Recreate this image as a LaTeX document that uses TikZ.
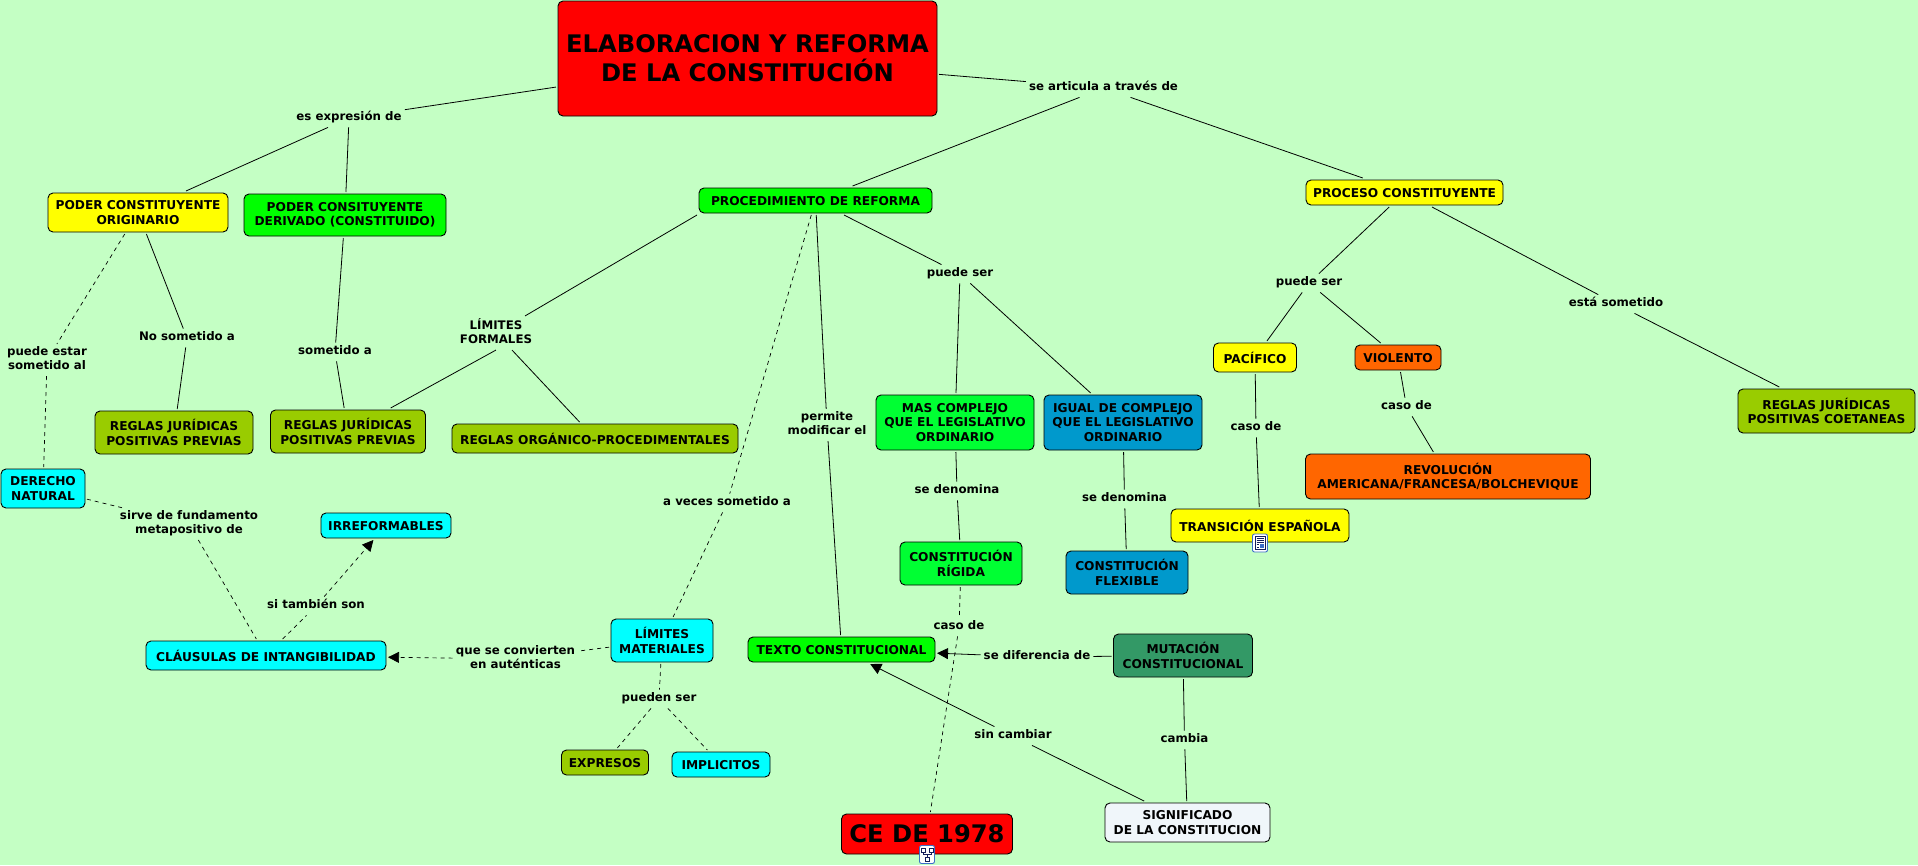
\documentclass[tikz,border=0pt]{standalone}
\usepackage{fontspec}
\setmainfont{DejaVu Sans}
\usetikzlibrary{arrows.meta}

\definecolor{mapbg}{RGB}{196,255,196}
\definecolor{mapred}{RGB}{255,0,0}
\definecolor{mapyellow}{RGB}{255,255,0}
\definecolor{mapgreen}{RGB}{0,255,0}
\definecolor{mapspring}{RGB}{0,255,51}
\definecolor{mapblue}{RGB}{0,153,204}
\definecolor{maporange}{RGB}{255,102,0}
\definecolor{mapolive}{RGB}{153,204,0}
\definecolor{mapcyan}{RGB}{0,255,255}
\definecolor{mapsea}{RGB}{51,153,102}
\definecolor{mapwhite}{RGB}{240,246,250}
\definecolor{iconblue}{RGB}{60,110,200}
\definecolor{iconink}{RGB}{20,30,90}

\tikzset{
    concept/.style={draw=black, line width=0.9pt, rounded corners=5pt, align=center, inner sep=0pt, outer sep=2pt, font=\fontsize{12.2}{14.4}\selectfont\bfseries, execute at begin node={\rule{0pt}{11pt}}},
    bigconcept/.style={concept, font=\fontsize{24.2}{28.7}\selectfont\bfseries},
    linkword/.style={align=center, inner xsep=3pt, inner ysep=2pt, yshift=-1pt, font=\fontsize{11.8}{14.4}\selectfont\bfseries, execute at begin node=\strut, execute at end node=\strut},
    conn/.style={line width=0.8pt},
    connd/.style={line width=0.7pt, dash pattern=on 4pt off 4pt},
    tip/.style={-{Triangle[length=11pt,width=11pt]}},
    iconbox/.style={draw=iconblue, fill=white, line width=0.9pt, rounded corners=2pt, minimum width=15pt, minimum height=18pt, inner sep=0pt},
    iconline/.style={draw=iconink, line width=0.8pt}
}

\begin{document}
\begin{tikzpicture}[x=1pt, y=-1pt]
    \useasboundingbox (0,0) rectangle (1918,865);
    \fill[mapbg] (0,0) rectangle (1918,865);

    % Main concept and the two big branches
    \node[bigconcept, fill=mapred, minimum width=379pt, minimum height=115pt] (title) at (747.5,58.5) {ELABORACION Y REFORMA\\DE LA CONSTITUCIÓN};
    \node[concept, fill=mapyellow, minimum width=180pt, minimum height=39pt] (poderorig) at (138,212.5) {PODER CONSTITUYENTE\\ORIGINARIO};
    \node[concept, fill=mapgreen, minimum width=202pt, minimum height=42pt] (poderderiv) at (345,215) {PODER CONSITUYENTE\\DERIVADO (CONSTITUIDO)};
    \node[concept, fill=mapgreen, minimum width=233pt, minimum height=25pt] (procreforma) at (815.5,200.5) {PROCEDIMIENTO DE REFORMA};
    \node[concept, fill=mapyellow, minimum width=197pt, minimum height=25pt] (procconst) at (1404.5,192.5) {PROCESO CONSTITUYENTE};

    % Left side
    \node[concept, fill=mapolive, minimum width=158pt, minimum height=43pt] (reglasuno) at (174,432.5) {REGLAS JURÍDICAS\\POSITIVAS PREVIAS};
    \node[concept, fill=mapolive, minimum width=155pt, minimum height=43pt] (reglasdos) at (348,431.5) {REGLAS JURÍDICAS\\POSITIVAS PREVIAS};
    \node[concept, fill=mapolive, minimum width=286pt, minimum height=29pt] (reglasorg) at (595,438.5) {REGLAS ORGÁNICO-PROCEDIMENTALES};
    \node[concept, fill=mapcyan, minimum width=84pt, minimum height=39pt] (derecho) at (43,488.5) {DERECHO\\NATURAL};
    \node[concept, fill=mapcyan, minimum width=130pt, minimum height=25pt] (irreformables) at (386,525.5) {IRREFORMABLES};
    \node[concept, fill=mapcyan, minimum width=240pt, minimum height=29pt] (clausulas) at (266,655.5) {CLÁUSULAS DE INTANGIBILIDAD};
    \node[concept, fill=mapcyan, minimum width=102pt, minimum height=43pt] (limmat) at (662,640.5) {LÍMITES\\MATERIALES};
    \node[concept, fill=mapolive, minimum width=87pt, minimum height=25pt] (expresos) at (605,762.5) {EXPRESOS};
    \node[concept, fill=mapcyan, minimum width=98pt, minimum height=25pt] (implicitos) at (721,764.5) {IMPLICITOS};

    % Middle
    \node[concept, fill=mapgreen, minimum width=187pt, minimum height=25pt] (texto) at (841.5,649.5) {TEXTO CONSTITUCIONAL};
    \node[concept, fill=mapspring, minimum width=158pt, minimum height=55pt] (mascomplejo) at (955,422.5) {MAS COMPLEJO\\QUE EL LEGISLATIVO\\ORDINARIO};
    \node[concept, fill=mapblue, minimum width=158pt, minimum height=55pt] (igualcomplejo) at (1123,422.5) {IGUAL DE COMPLEJO\\QUE EL LEGISLATIVO\\ORDINARIO};
    \node[concept, fill=mapspring, minimum width=122pt, minimum height=43pt] (rigida) at (961,563.5) {CONSTITUCIÓN\\RÍGIDA};
    \node[concept, fill=mapblue, minimum width=122pt, minimum height=43pt] (flexible) at (1127,572.5) {CONSTITUCIÓN\\FLEXIBLE};
    \node[concept, fill=mapsea, minimum width=139pt, minimum height=43pt] (mutacion) at (1183,655.5) {MUTACIÓN\\CONSTITUCIONAL};
    \node[concept, fill=mapwhite, minimum width=165pt, minimum height=39pt] (significado) at (1187.5,822.5) {SIGNIFICADO\\DE LA CONSTITUCION};
    \node[bigconcept, fill=mapred, minimum width=171pt, minimum height=40pt] (cedel) at (927,834) {CE DE 1978};

    % Right side
    \node[concept, fill=mapyellow, minimum width=83pt, minimum height=29pt] (pacifico) at (1255,357.5) {PACÍFICO};
    \node[concept, fill=maporange, minimum width=86pt, minimum height=25pt] (violento) at (1398,357.5) {VIOLENTO};
    \node[concept, fill=mapolive, minimum width=177pt, minimum height=44pt] (reglascoet) at (1826.5,411) {REGLAS JURÍDICAS\\POSITIVAS COETANEAS};
    \node[concept, fill=mapyellow, minimum width=178pt, minimum height=33pt] (transicion) at (1260,525.5) {TRANSICIÓN ESPAÑOLA};
    \node[concept, fill=maporange, minimum width=285pt, minimum height=45pt] (revolucion) at (1448,476.5) {REVOLUCIÓN\\AMERICANA/FRANCESA/BOLCHEVIQUE};

    % Linking words
    \node[linkword] (esexpresion) at (349,117) {es expresión de};
    \node[linkword] (searticula) at (1103.5,87) {se articula a través de};
    \node[linkword] (limform) at (496,332) {LÍMITES\\FORMALES};
    \node[linkword] (puedeserref) at (960,273) {puede ser};
    \node[linkword] (puedeserproc) at (1309,282) {puede ser};
    \node[linkword] (estasometido) at (1616,303) {está sometido};
    \node[linkword] (puedeestar) at (47,359) {puede estar\\sometido al};
    \node[linkword] (nosometido) at (187,337) {No sometido a};
    \node[linkword] (sometidoa) at (335,351) {sometido a};
    \node[linkword] (permite) at (827,424) {permite\\modificar el};
    \node[linkword] (aveces) at (727,502) {a veces sometido a};
    \node[linkword] (casopaci) at (1256,427) {caso de};
    \node[linkword] (casoviol) at (1406.5,406) {caso de};
    \node[linkword] (denomuno) at (957,490) {se denomina};
    \node[linkword] (denomdos) at (1124.5,498) {se denomina};
    \node[linkword] (casorig) at (959,626) {caso de};
    \node[linkword] (diferencia) at (1037,656) {se diferencia de};
    \node[linkword] (cambia) at (1184.5,739) {cambia};
    \node[linkword] (sincambiar) at (1013,735) {sin cambiar};
    \node[linkword] (sirve) at (189,523) {sirve de fundamento\\metapositivo de};
    \node[linkword] (sitambien) at (316,605) {si también son};
    \node[linkword] (convierten) at (515.5,658) {que se convierten\\en auténticas};
    \node[linkword] (puedenser) at (659,698) {pueden ser};

    % Solid connectors
    \draw[conn] (title) -- (esexpresion);
    \draw[conn] (esexpresion) -- (poderorig);
    \draw[conn] (esexpresion) -- (poderderiv);
    \draw[conn] (title) -- (searticula);
    \draw[conn] (searticula) -- (procreforma);
    \draw[conn] (searticula) -- (procconst);
    \draw[conn] (poderorig) -- (nosometido);
    \draw[conn] (nosometido) -- (reglasuno);
    \draw[conn] (poderderiv) -- (sometidoa);
    \draw[conn] (sometidoa) -- (reglasdos);
    \draw[conn] (procreforma.south west) -- (limform);
    \draw[conn] (limform.south) -- (reglasdos);
    \draw[conn] (limform) -- (reglasorg);
    \draw[conn] (procreforma) -- (permite);
    \draw[conn] (permite) -- (texto);
    \draw[conn] (procreforma) -- (puedeserref);
    \draw[conn] (puedeserref) -- (mascomplejo);
    \draw[conn] (puedeserref) -- (igualcomplejo);
    \draw[conn] (mascomplejo) -- (denomuno);
    \draw[conn] (denomuno) -- (rigida);
    \draw[conn] (igualcomplejo) -- (denomdos);
    \draw[conn] (denomdos) -- (flexible);
    \draw[conn] (procconst) -- (puedeserproc);
    \draw[conn] (puedeserproc) -- (pacifico);
    \draw[conn] (puedeserproc) -- (violento);
    \draw[conn] (procconst) -- (estasometido);
    \draw[conn] (estasometido) -- (reglascoet);
    \draw[conn] (pacifico) -- (casopaci);
    \draw[conn] (casopaci) -- (transicion);
    \draw[conn] (violento) -- (casoviol);
    \draw[conn] (casoviol) -- (revolucion);
    \draw[conn] (mutacion) -- (cambia);
    \draw[conn] (cambia) -- (significado);
    \draw[conn] (mutacion) -- (diferencia);
    \draw[conn, tip] (diferencia) -- (texto);
    \draw[conn] (significado) -- (sincambiar);
    \draw[conn, tip] (sincambiar) -- (texto);

    % Dashed connectors
    \draw[connd] (poderorig) -- (puedeestar);
    \draw[connd] (puedeestar) -- (derecho);
    \draw[connd] (derecho) -- (sirve);
    \draw[connd] (sirve) -- (clausulas);
    \draw[connd] (clausulas) -- (sitambien);
    \draw[connd, tip] (sitambien) -- (irreformables);
    \draw[connd] (procreforma) -- (aveces);
    \draw[connd] (aveces) -- (limmat);
    \draw[connd] (limmat) -- (convierten);
    \draw[connd, tip] (convierten) -- (clausulas);
    \draw[connd] (limmat) -- (puedenser);
    \draw[connd] (puedenser) -- (expresos);
    \draw[connd] (puedenser) -- (implicitos);
    \draw[connd] (rigida) -- (casorig);
    \draw[connd] (casorig) -- (cedel);

    % Resource icons
    \node[iconbox] (icontransicion) at (1260,543) {};
    \draw[iconline] ([xshift=-5pt,yshift=-6pt]icontransicion.center) rectangle ([xshift=5pt,yshift=7pt]icontransicion.center);
    \fill[iconblue] ([xshift=0pt,yshift=-5pt]icontransicion.center) rectangle ([xshift=4pt,yshift=-1pt]icontransicion.center);
    \draw[iconline] ([xshift=-3.5pt,yshift=-4pt]icontransicion.center) -- ([xshift=-1pt,yshift=-4pt]icontransicion.center);
    \draw[iconline] ([xshift=-3.5pt,yshift=-1.5pt]icontransicion.center) -- ([xshift=-1pt,yshift=-1.5pt]icontransicion.center);
    \draw[iconline] ([xshift=-3.5pt,yshift=1pt]icontransicion.center) -- ([xshift=3.5pt,yshift=1pt]icontransicion.center);
    \draw[iconline] ([xshift=-3.5pt,yshift=3pt]icontransicion.center) -- ([xshift=3.5pt,yshift=3pt]icontransicion.center);
    \draw[iconline] ([xshift=-3.5pt,yshift=5pt]icontransicion.center) -- ([xshift=3.5pt,yshift=5pt]icontransicion.center);

    \node[iconbox] (iconcedel) at (927,854.5) {};
    \draw[iconline] ([xshift=-2pt,yshift=-7pt]iconcedel.center) rectangle ([xshift=2pt,yshift=-3pt]iconcedel.center);
    \draw[iconline] ([xshift=-6pt,yshift=2pt]iconcedel.center) rectangle ([xshift=-2pt,yshift=6pt]iconcedel.center);
    \draw[iconline] ([xshift=2pt,yshift=2pt]iconcedel.center) rectangle ([xshift=6pt,yshift=6pt]iconcedel.center);
    \draw[iconline] ([yshift=-3pt]iconcedel.center) -- (iconcedel.center) -- ([xshift=-4pt]iconcedel.center) -- ([xshift=-4pt,yshift=2pt]iconcedel.center);
    \draw[iconline] (iconcedel.center) -- ([xshift=4pt]iconcedel.center) -- ([xshift=4pt,yshift=2pt]iconcedel.center);
\end{tikzpicture}
\end{document}
